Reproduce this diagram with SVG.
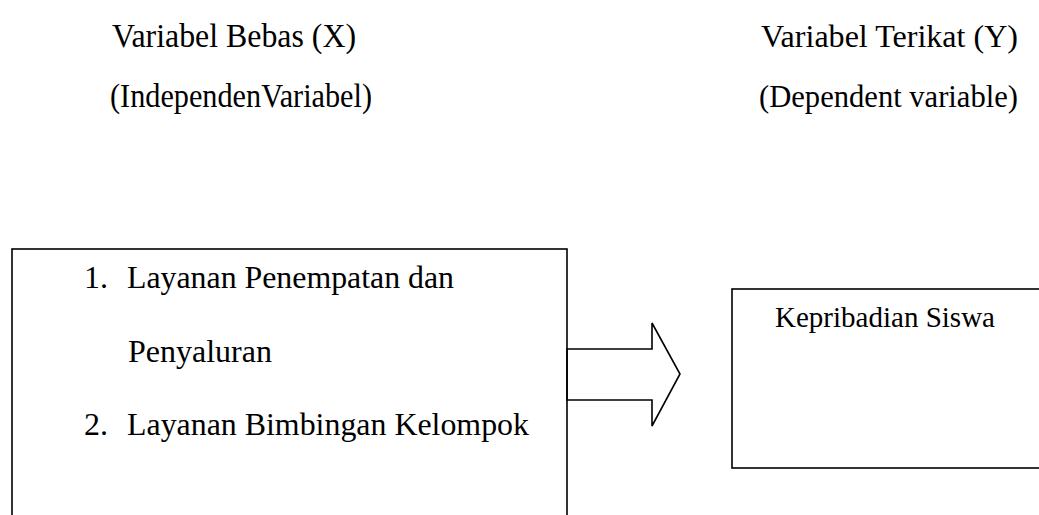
<svg xmlns="http://www.w3.org/2000/svg" width="1039" height="515" viewBox="0 0 1039 515">
<style>
text{font-family:"Liberation Serif","Times New Roman",serif;fill:#000;font-size:32px}
.hd{font-size:34px}
.hr{font-size:32px}
.box{fill:none;stroke:#000;stroke-width:1.6}
.small{font-size:29px}
</style>
<rect width="1039" height="515" fill="#fff"/>
<g id="header-x">
<text class="hd" x="112" y="47" textLength="244" lengthAdjust="spacingAndGlyphs">Variabel Bebas (X)</text>
<text class="hd" x="110" y="107" textLength="262" lengthAdjust="spacingAndGlyphs">(IndependenVariabel)</text>
</g>
<g id="header-y">
<text class="hr" x="761" y="47" textLength="257" lengthAdjust="spacingAndGlyphs">Variabel Terikat (Y)</text>
<text class="hr" x="759" y="107" textLength="259" lengthAdjust="spacingAndGlyphs">(Dependent variable)</text>
</g>
<g id="node-x">
<rect class="box" x="12" y="249" width="555" height="300"/>
<text x="84" y="288">1.</text>
<text x="127" y="288" textLength="327" lengthAdjust="spacingAndGlyphs">Layanan Penempatan dan</text>
<text x="128" y="362">Penyaluran</text>
<text x="84" y="435">2.</text>
<text x="127" y="435" textLength="402" lengthAdjust="spacingAndGlyphs">Layanan Bimbingan Kelompok</text>
</g>
<g id="node-y">
<rect class="box" x="732" y="289" width="330" height="179"/>
<text class="small" x="775" y="327" textLength="220" lengthAdjust="spacingAndGlyphs">Kepribadian Siswa</text>
</g>
<g id="connectors">
<polygon class="box" points="567,349 652,349 652,323 680,374 652,426 652,400 567,400"/>
</g>
</svg>
